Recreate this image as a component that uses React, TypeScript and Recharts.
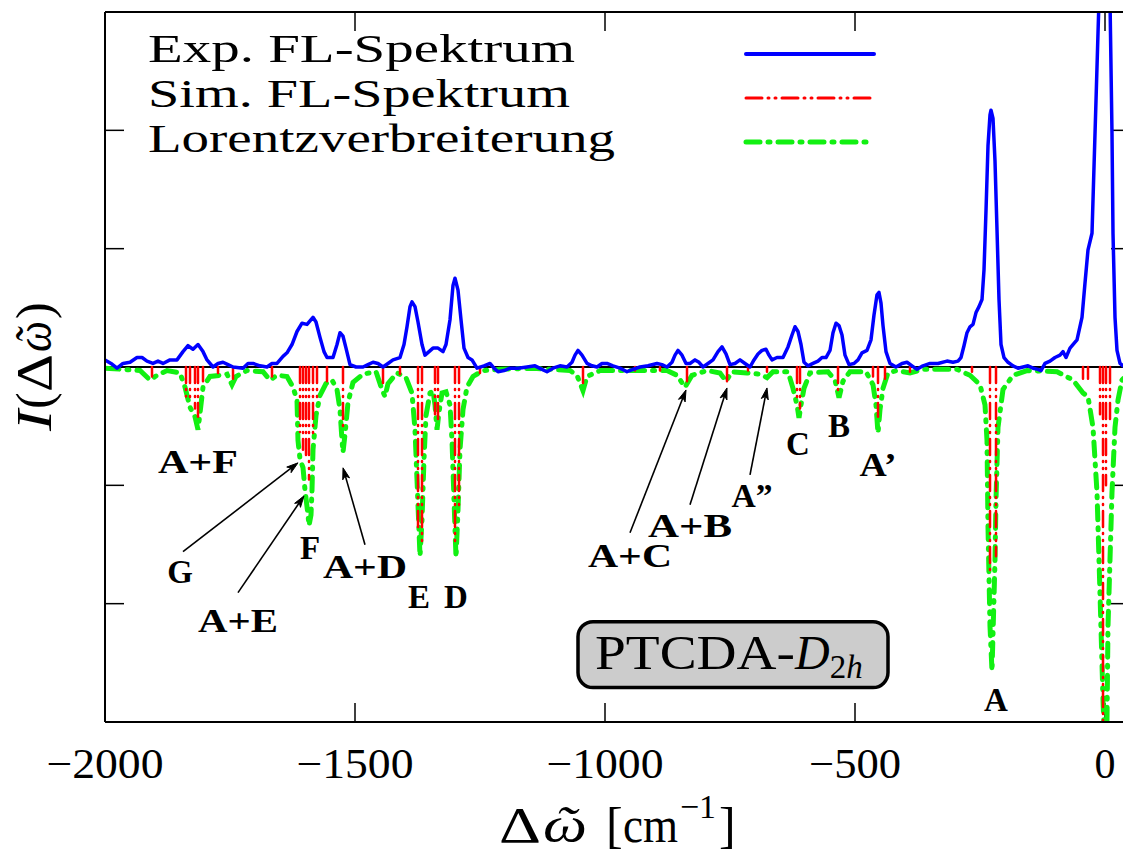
import React from 'react';
import { LineChart, Line, XAxis, YAxis, ReferenceLine, ReferenceArea, ReferenceDot } from 'recharts';

// ---------- data ----------
// Experimental fluorescence spectrum (blue)
const expX = [
  -2000, -1988, -1976, -1964, -1950, -1936, -1926, -1916, -1904, -1894, -1884, -1870, -1856, -1844, -1834, -1824,
  -1814, -1804, -1796, -1784, -1774, -1764, -1754, -1744, -1724, -1714, -1704, -1690, -1676, -1666, -1656, -1644,
  -1636, -1626, -1616, -1606, -1596, -1590, -1584, -1578, -1570, -1562, -1556, -1544, -1536, -1530, -1524, -1518,
  -1510, -1498, -1484, -1474, -1464, -1454, -1444, -1434, -1424, -1410, -1402, -1396, -1390, -1386, -1380, -1374,
  -1366, -1360, -1352, -1344, -1334, -1324, -1318, -1310, -1304, -1300, -1294, -1288, -1282, -1274, -1266, -1256,
  -1242, -1230, -1222, -1214, -1202, -1190, -1174, -1156, -1140, -1126, -1116, -1104, -1090, -1076, -1066, -1060,
  -1054, -1046, -1036, -1026, -1016, -1006, -996, -984, -970, -956, -944, -930, -914, -896, -886, -876,
  -866, -860, -854, -846, -838, -830, -820, -812, -804, -794, -784, -774, -766, -758, -750, -740,
  -730, -720, -710, -702, -694, -686, -678, -672, -666, -656, -644, -634, -626, -620, -614, -608,
  -602, -594, -584, -574, -566, -558, -550, -544, -538, -532, -526, -520, -512, -502, -494, -486,
  -476, -468, -462, -456, -452, -448, -444, -438, -430, -418, -406, -396, -386, -376, -364, -350,
  -334, -316, -304, -294, -288, -282, -276, -270, -264, -258, -252, -246, -242, -238, -234, -230,
  -228, -224, -220, -216, -212, -208, -202, -194, -184, -174, -164, -154, -144, -134, -128, -120,
  -110, -100, -90, -84, -78, -70, -62, -56, -46, -40, -34, -26, -24, -18, -14, -12,
  -6, 0, 6, 10, 11, 14, 16, 20, 24, 30, 36, 50,
];
const expY = [
  0.06, 0.03, -0.01, 0.03, 0.04, 0.08, 0.08, 0.05, 0.03, 0.05, 0.03, 0.06, 0.06, 0.13, 0.18, 0.15,
  0.19, 0.13, 0.06, 0.0, 0.03, 0.04, 0.02, 0.0, -0.01, 0.03, 0.03, 0.01, 0.0, 0.03, 0.03, 0.09,
  0.12, 0.19, 0.3, 0.37, 0.36, 0.39, 0.42, 0.38, 0.25, 0.13, 0.08, 0.08, 0.19, 0.29, 0.26, 0.16,
  0.02, 0.0, 0.0, 0.02, 0.04, 0.03, 0.0, 0.03, 0.06, 0.08, 0.19, 0.34, 0.51, 0.55, 0.51, 0.38,
  0.19, 0.1, 0.13, 0.16, 0.16, 0.13, 0.19, 0.4, 0.69, 0.75, 0.65, 0.4, 0.16, 0.08, 0.06, -0.01,
  0.01, 0.03, -0.01, -0.04, -0.03, -0.01, -0.01, 0.0, 0.01, -0.02, -0.04, -0.01, 0.01, 0.0, 0.04, 0.1,
  0.14, 0.1, 0.03, 0.01, 0.0, 0.03, 0.03, 0.01, -0.01, -0.04, -0.02, 0.0, 0.01, 0.03, 0.02, 0.0,
  0.04, 0.1, 0.14, 0.1, 0.03, 0.03, 0.06, 0.04, 0.0, 0.03, 0.06, 0.13, 0.17, 0.11, 0.02, 0.03,
  0.06, 0.03, 0.0, 0.06, 0.11, 0.14, 0.15, 0.1, 0.06, 0.08, 0.08, 0.17, 0.27, 0.34, 0.3, 0.19,
  0.04, 0.01, 0.03, 0.05, 0.08, 0.08, 0.14, 0.29, 0.37, 0.35, 0.27, 0.1, 0.02, 0.03, 0.06, 0.12,
  0.14, 0.23, 0.44, 0.61, 0.63, 0.54, 0.35, 0.13, 0.03, 0.0, 0.03, 0.04, 0.01, -0.02, 0.01, 0.03,
  0.03, 0.05, 0.04, 0.05, 0.08, 0.18, 0.29, 0.34, 0.36, 0.46, 0.51, 0.57, 0.82, 1.32, 1.87, 2.13,
  2.17, 2.1, 1.74, 1.16, 0.57, 0.19, 0.08, 0.04, 0.01, -0.01, 0.0, 0.01, -0.01, -0.02, -0.03, 0.03,
  0.05, 0.08, 0.1, 0.13, 0.08, 0.16, 0.2, 0.23, 0.42, 0.71, 0.99, 1.13, 1.41, 2.25, 2.82, 3.1,
  3.6, 3.7, 3.6, 3.1, 2.82, 1.97, 1.13, 0.42, 0.14, 0.03, 0.01, 0.0,
];

// Simulated stick spectrum (red), drawn downwards
const stickX = [
  -1906, -1838, -1830, -1820, -1814, -1804, -1774, -1744, -1666, -1610, -1604, -1598, -1592, -1584, -1576, -1556,
  -1524, -1444, -1410, -1374, -1366, -1340, -1334, -1300, -1292, -1250, -1044, -940, -890, -836, -756, -714,
  -676, -616, -610, -534, -464, -454, -440, -390, -266, -230, -218, -44, -34, -10, -4, 2, 10,
];
const stickDepth = [
  -0.08, -0.25, -0.3, -0.35, -0.42, -0.12, -0.05, -0.1, -0.08, -0.55, -0.7, -0.78, -0.95, -0.6, -0.3, -0.12,
  -0.5, -0.15, -0.06, -1.4, -1.5, -0.4, -0.45, -1.5, -1.2, -0.05, -0.15, -0.03, -0.03, -0.12, -0.12, -0.03,
  -0.04, -0.3, -0.35, -0.2, -0.08, -0.42, -0.1, -0.04, -0.04, -1.75, -1.6, -0.1, -0.1, -0.4, -3.5, -1.0, -0.45,
];

// Lorentz-broadened simulation (green)
const lorX = [
  -2000, -1930, -1910, -1896, -1876, -1850, -1840, -1830, -1820, -1814, -1810, -1804, -1790, -1770, -1756, -1746,
  -1738, -1716, -1684, -1670, -1656, -1636, -1624, -1616, -1614, -1610, -1604, -1600, -1594, -1592, -1588, -1586,
  -1584, -1578, -1570, -1558, -1546, -1536, -1530, -1526, -1524, -1520, -1514, -1504, -1484, -1458, -1446, -1440,
  -1434, -1416, -1398, -1386, -1380, -1376, -1372, -1370, -1366, -1362, -1358, -1350, -1344, -1340, -1336, -1332,
  -1326, -1318, -1310, -1306, -1302, -1298, -1294, -1290, -1284, -1276, -1264, -1244, -1210, -1144, -1070, -1056,
  -1044, -1036, -1010, -876, -856, -840, -826, -796, -770, -758, -746, -716, -690, -676, -664, -634,
  -624, -616, -612, -608, -602, -590, -554, -540, -532, -524, -510, -478, -464, -458, -454, -450,
  -444, -434, -416, -390, -364, -296, -270, -250, -240, -236, -234, -230, -226, -220, -218, -214,
  -204, -184, -156, -96, -64, -44, -34, -24, -16, -10, -4, 0, 4, 6, 14, 20,
  26, 34, 50,
];
const lorY = [
  -0.01, -0.03, -0.11, -0.07, -0.03, -0.05, -0.17, -0.34, -0.42, -0.53, -0.39, -0.17, -0.08, -0.07, -0.06, -0.15,
  -0.08, -0.03, -0.04, -0.11, -0.07, -0.08, -0.17, -0.28, -0.62, -0.78, -0.85, -1.04, -1.25, -1.34, -1.25, -1.04,
  -0.7, -0.41, -0.24, -0.14, -0.11, -0.19, -0.36, -0.62, -0.72, -0.57, -0.3, -0.13, -0.06, -0.04, -0.19, -0.25,
  -0.14, -0.05, -0.09, -0.22, -0.53, -0.95, -1.38, -1.6, -1.29, -0.78, -0.41, -0.22, -0.2, -0.32, -0.53, -0.38,
  -0.22, -0.21, -0.32, -0.62, -1.12, -1.61, -1.21, -0.7, -0.36, -0.17, -0.08, -0.03, -0.02, -0.01, -0.03, -0.07,
  -0.2, -0.08, -0.03, -0.03, -0.07, -0.17, -0.07, -0.03, -0.05, -0.12, -0.04, -0.05, -0.06, -0.09, -0.04, -0.04,
  -0.18, -0.32, -0.43, -0.32, -0.18, -0.05, -0.04, -0.11, -0.26, -0.12, -0.04, -0.04, -0.15, -0.32, -0.56, -0.36,
  -0.18, -0.05, -0.03, -0.05, -0.02, -0.02, -0.07, -0.15, -0.32, -0.62, -1.35, -2.19, -2.57, -1.63, -1.12, -0.51,
  -0.19, -0.07, -0.03, -0.04, -0.11, -0.22, -0.25, -0.51, -1.06, -1.91, -2.81, -3.3, -2.98, -2.19, -1.06, -0.51,
  -0.28, -0.11, -0.04,
];

// Axis ticks
const xTicks = [-2000, -1500, -1000, -500, 0];
const yTicks = [-3, -2, -1, 0, 1, 2, 3];

// Legend entries
const legendNames = ['Exp. FL-Spektrum', 'Sim. FL-Spektrum', 'Lorentzverbreiterung'];

// Peak annotations (label, anchor in data coordinates)
const annLabels = ['A+F', 'G', 'A+E', 'F', 'A+D', 'E', 'D', 'A+C', 'A+B', 'A\u201D', 'C', 'B', 'A\u2019', 'A'];
const annX = [-1814, -1850, -1734, -1590, -1480, -1372, -1298, -950, -830, -706, -614, -532, -454, -218];
const annY = [-0.895, -1.823, -2.24, -1.62, -1.78, -2.04, -2.04, -1.69, -1.435, -1.18, -0.743, -0.59, -0.92, -2.911];

// Arrows: label -> peak (data coordinates)
const arrowFromX = [-1844, -1734, -1480, -950, -830, -710];
const arrowFromY = [-1.561, -1.907, -1.502, -1.401, -1.165, -0.911];
const arrowToX = [-1614, -1602, -1524, -838, -756, -676];
const arrowToY = [-0.81, -1.089, -0.852, -0.194, -0.177, -0.177];

// Inset box (data coordinates)
const boxX = [-1054, -434];
const boxY = [-2.709, -2.152];

// ---------- derived tables ----------
const expData = expX.map((x, i) => ({ x, y: expY[i] }));
const lorData = lorX.map((x, i) => ({ x, y: lorY[i] }));
const stickData = stickX.flatMap((x, i) => [
  { x, y: 0 },
  { x, y: stickDepth[i] },
  { x, y: null },
]);

// ---------- styles ----------
const SERIF = '"Liberation Serif", "DejaVu Serif", serif';
const W = 1140;
const H = 854;
const BLUE = '#0000ff';
const RED = '#ff0000';
const GREEN = '#12f012';
const redDash = '16 6 1 6 1 6';
const greenDash = '14 8 2 8';
const TICK = 19;
const tickLen: Record<string, number> = { '\u22122000': 117, '\u22121500': 117, '\u22121000': 117, '\u2212500': 92 };
const annLen: Record<string, number> = {
  'A+F': 80, 'A+E': 80, 'A+D': 84, 'A+C': 84, 'A+B': 84, 'A\u201D': 41, 'A\u2019': 37,
};

const BottomTick = (props: any) => {
  const { x, y, payload } = props;
  const v = payload.value as number;
  const s = v < 0 ? '\u2212' + Math.abs(v) : String(v);
  const w = tickLen[s];
  return (
    <text
      x={x}
      y={y}
      textAnchor="middle"
      fontFamily={SERIF}
      fontSize={42}
      fill="#000"
      {...(w ? { textLength: w, lengthAdjust: 'spacingAndGlyphs' } : {})}
    >
      {s}
    </text>
  );
};

// inward tick stubs at both ends of a full-height / full-width reference line
const XTickStubs = (props: any) => {
  const { x1, y1, y2 } = props;
  if ([x1, y1, y2].some((v) => v == null || Number.isNaN(v))) return null;
  const top = Math.min(y1, y2);
  const bot = Math.max(y1, y2);
  return (
    <g stroke="#000" strokeWidth={1.5}>
      <line x1={x1} x2={x1} y1={top} y2={top + TICK} />
      <line x1={x1} x2={x1} y1={bot - TICK} y2={bot} />
    </g>
  );
};
const YTickStubs = (props: any) => {
  const { x1, x2, y1 } = props;
  if ([x1, x2, y1].some((v) => v == null || Number.isNaN(v))) return null;
  const l = Math.min(x1, x2);
  const r = Math.max(x1, x2);
  return (
    <g stroke="#000" strokeWidth={1.5}>
      <line x1={l} x2={l + TICK} y1={y1} y2={y1} />
      <line x1={r - TICK} x2={r} y1={y1} y2={y1} />
    </g>
  );
};

const ArrowShape = (props: any) => {
  const { x1, y1, x2, y2 } = props;
  if ([x1, y1, x2, y2].some((v) => v == null || Number.isNaN(v))) return null;
  const ang = Math.atan2(y2 - y1, x2 - x1);
  const L = 12;
  const a = 0.3;
  const p1x = x2 - L * Math.cos(ang - a);
  const p1y = y2 - L * Math.sin(ang - a);
  const p2x = x2 - L * Math.cos(ang + a);
  const p2y = y2 - L * Math.sin(ang + a);
  const nx = x2 - L * 0.7 * Math.cos(ang);
  const ny = y2 - L * 0.7 * Math.sin(ang);
  return (
    <g>
      <line x1={x1} y1={y1} x2={nx} y2={ny} stroke="#000" strokeWidth={1.6} />
      <path d={`M${p1x},${p1y} L${x2},${y2} L${p2x},${p2y} L${nx},${ny} Z`} fill="#000" stroke="#000" strokeWidth={1} />
    </g>
  );
};

const makeLabelShape = (label: string) => (props: any) => {
  const { cx, cy } = props;
  const w = annLen[label];
  return (
    <text
      x={cx}
      y={cy}
      textAnchor="middle"
      fontFamily={SERIF}
      fontWeight="bold"
      fontSize={33}
      fill="#000"
      {...(w ? { textLength: w, lengthAdjust: 'spacingAndGlyphs' } : {})}
    >
      {label}
    </text>
  );
};

const BoxShape = (props: any) => {
  const { x, y, width, height } = props;
  return (
    <g>
      <rect x={x} y={y} width={width} height={height} rx={15} ry={15} fill="#cccccc" stroke="#000" strokeWidth={3.5} />
      <text x={x + 17} y={y + height - 19} fontFamily={SERIF} fontSize={48} fill="#000">
        <tspan textLength={200} lengthAdjust="spacingAndGlyphs">PTCDA-</tspan>
        <tspan fontStyle="italic">D</tspan>
        <tspan dy={9} fontSize={33}>2</tspan>
        <tspan fontSize={33} fontStyle="italic">h</tspan>
      </text>
    </g>
  );
};

const legendColors = [BLUE, RED, GREEN];
const legendDash = [undefined, redDash, greenDash];
const legendWidth = [4, 3, 5];
const legendTextLen = [427, 422, 467];

const axisLineStyle = { stroke: '#000', strokeWidth: 2 };

export default function App() {
  return (
    <div style={{ position: 'absolute', left: 0, top: 0, width: 1123, height: 854, overflow: 'hidden', background: '#fff' }}>
      <LineChart width={W} height={H} margin={{ top: 11, right: 9, bottom: 131, left: 104 }}>
        <XAxis
          dataKey="x"
          type="number"
          domain={[-2000, 50]}
          allowDataOverflow
          ticks={xTicks}
          interval={0}
          height={1}
          axisLine={axisLineStyle}
          tickLine={false}
          tickSize={-19}
          tickMargin={75}
          tick={BottomTick}
        />
        <XAxis
          xAxisId="top"
          orientation="top"
          dataKey="x"
          type="number"
          domain={[-2000, 50]}
          allowDataOverflow
          ticks={xTicks}
          interval={0}
          height={1}
          axisLine={axisLineStyle}
          tickLine={false}
          tick={false}
        />
        <YAxis
          type="number"
          domain={[-3, 3]}
          allowDataOverflow
          ticks={yTicks}
          interval={0}
          width={1}
          axisLine={axisLineStyle}
          tickLine={false}
          tick={false}
        />
        <YAxis
          yAxisId="right"
          orientation="right"
          type="number"
          domain={[-3, 3]}
          allowDataOverflow
          ticks={yTicks}
          interval={0}
          width={1}
          axisLine={axisLineStyle}
          tickLine={false}
          tick={false}
        />
        {xTicks.map((t) => (
          <ReferenceLine key={'xt' + t} x={t} stroke="#000" shape={XTickStubs} />
        ))}
        {yTicks.map((t) => (
          <ReferenceLine key={'yt' + t} y={t} stroke="#000" shape={YTickStubs} />
        ))}
        <ReferenceLine y={0} stroke="#000" strokeWidth={2} />
        <Line
          data={lorData}
          dataKey="y"
          type="linear"
          stroke={GREEN}
          strokeWidth={5}
          strokeDasharray={greenDash}
          strokeLinecap="round"
          dot={false}
          activeDot={false}
          isAnimationActive={false}
        />
        <Line
          data={stickData}
          dataKey="y"
          type="linear"
          stroke={RED}
          strokeWidth={2.5}
          strokeDasharray={redDash}
          strokeLinecap="round"
          connectNulls={false}
          dot={false}
          activeDot={false}
          isAnimationActive={false}
        />
        <Line
          data={expData}
          dataKey="y"
          type="linear"
          stroke={BLUE}
          strokeWidth={3.5}
          strokeLinejoin="round"
          dot={false}
          activeDot={false}
          isAnimationActive={false}
        />
        {arrowFromX.map((fx, i) => (
          <ReferenceLine
            key={'arr' + i}
            segment={[
              { x: fx, y: arrowFromY[i] },
              { x: arrowToX[i], y: arrowToY[i] },
            ]}
            stroke="#000"
            shape={ArrowShape}
          />
        ))}
        {annLabels.map((lab, i) => (
          <ReferenceDot key={'ann' + i} x={annX[i]} y={annY[i]} r={1} shape={makeLabelShape(lab)} />
        ))}
        <ReferenceArea x1={boxX[0]} x2={boxX[1]} y1={boxY[0]} y2={boxY[1]} shape={BoxShape} />
      </LineChart>
      <svg
        width={1123}
        height={854}
        style={{ position: 'absolute', left: 0, top: 0, pointerEvents: 'none' }}
      >
        {/* legend texts and sample lines */}
        {legendNames.map((name, i) => (
          <text
            key={name}
            x={148}
            y={62 + 45 * i}
            fontFamily={SERIF}
            fontSize={40.5}
            fill="#000"
            textLength={legendTextLen[i]}
            lengthAdjust="spacingAndGlyphs"
          >
            {name}
          </text>
        ))}
        {legendNames.map((name, i) => (
          <line
            key={'ll' + name}
            x1={746}
            x2={i === 2 ? 870 : 874}
            y1={54 + 44 * i}
            y2={54 + 44 * i}
            stroke={legendColors[i]}
            strokeWidth={legendWidth[i]}
            strokeDasharray={legendDash[i]}
            strokeLinecap="round"
          />
        ))}
        {/* y-axis title: I(Δω̃), rotated */}
        <g transform="translate(51,431) rotate(-90)" fontFamily={SERIF} fontSize={50} fill="#000">
          <text x={0} y={0} fontStyle="italic" textLength={21} lengthAdjust="spacingAndGlyphs">I</text>
          <text x={22} y={0}>(</text>
          <text x={39} y={0} textLength={38} lengthAdjust="spacingAndGlyphs">Δ</text>
          <text x={79} y={0} fontStyle="italic" textLength={31} lengthAdjust="spacingAndGlyphs">ῶ</text>
          <text x={112} y={0}>)</text>
        </g>
        {/* x-axis title: Δω̃ [cm^-1] */}
        <g fontFamily={SERIF} fontSize={50} fill="#000">
          <text x={499} y={842} textLength={42} lengthAdjust="spacingAndGlyphs">Δ</text>
          <text x={543} y={842} fontStyle="italic" textLength={44} lengthAdjust="spacingAndGlyphs">ῶ</text>
          <text x={606} y={842}>[</text>
          <text x={623} y={842} textLength={55} lengthAdjust="spacingAndGlyphs">cm</text>
          <text x={680} y={818} fontSize={34} textLength={36} lengthAdjust="spacingAndGlyphs">−1</text>
          <text x={719} y={842}>]</text>
        </g>
      </svg>
    </div>
  );
}
